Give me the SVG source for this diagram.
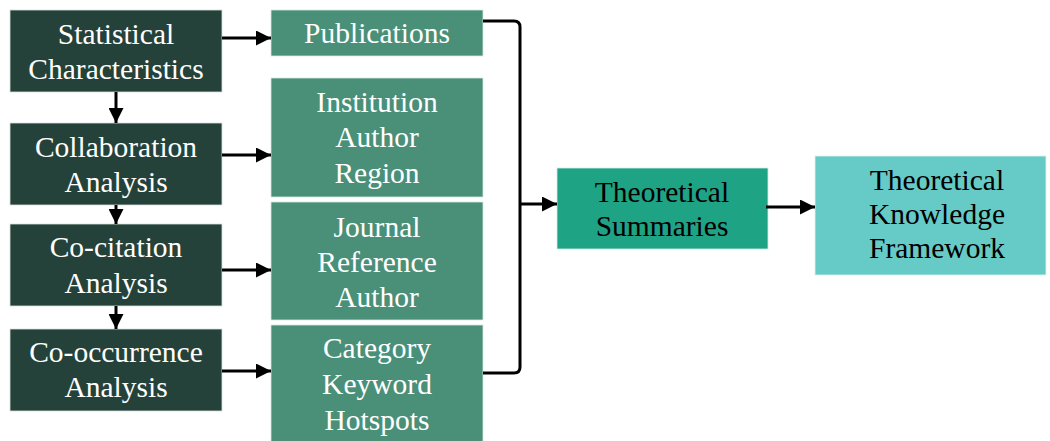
<svg xmlns="http://www.w3.org/2000/svg" width="1050" height="441" viewBox="0 0 1050 441">
<style>
.dark{fill:#25423A;stroke:#d8e0dc;stroke-width:0.8}
.mid{fill:#4A9079;stroke:#d8e8e0;stroke-width:0.8}
.sum{fill:#1FA385;stroke:#d8ece6;stroke-width:0.8}
.kn{fill:#66CBC6;stroke:#e0f0ee;stroke-width:0.8}
.t{font-family:"Liberation Serif","Times New Roman",serif;font-size:29.5px;text-anchor:middle}
.w{fill:#ffffff}
.b{fill:#000000}
.c{fill:none;stroke:#000;stroke-width:3}
</style>
<defs>
<marker id="ah" viewBox="0 0 10 10" refX="10" refY="5" markerWidth="5" markerHeight="5" orient="auto" markerUnits="strokeWidth">
<path d="M0,0 L10,5 L0,10 z" fill="#000"/>
</marker>
</defs>
<rect width="1050" height="441" fill="#fff"/>
<g id="statistical">
<rect class="dark" x="10" y="10" width="212" height="82"/>
<text class="t w" x="116" y="44">Statistical</text>
<text class="t w" x="116" y="79">Characteristics</text>
</g>
<g id="collaboration">
<rect class="dark" x="10" y="123" width="212" height="82"/>
<text class="t w" x="116" y="157">Collaboration</text>
<text class="t w" x="116" y="192">Analysis</text>
</g>
<g id="cocitation">
<rect class="dark" x="10" y="224" width="212" height="82"/>
<text class="t w" x="116" y="257">Co-citation</text>
<text class="t w" x="116" y="293">Analysis</text>
</g>
<g id="cooccurrence">
<rect class="dark" x="10" y="329" width="212" height="82"/>
<text class="t w" x="116" y="362">Co-occurrence</text>
<text class="t w" x="116" y="397">Analysis</text>
</g>
<g id="publications">
<rect class="mid" x="271" y="10" width="212" height="46"/>
<text class="t w" x="377" y="43">Publications</text>
</g>
<g id="institution">
<rect class="mid" x="271" y="78" width="212" height="119"/>
<text class="t w" x="377" y="112">Institution</text>
<text class="t w" x="377" y="147">Author</text>
<text class="t w" x="377" y="183">Region</text>
</g>
<g id="journal">
<rect class="mid" x="271" y="202" width="212" height="118"/>
<text class="t w" x="377" y="237">Journal</text>
<text class="t w" x="377" y="272">Reference</text>
<text class="t w" x="377" y="307">Author</text>
</g>
<g id="category">
<rect class="mid" x="271" y="325" width="212" height="120"/>
<text class="t w" x="377" y="358">Category</text>
<text class="t w" x="377" y="394">Keyword</text>
<text class="t w" x="377" y="430">Hotspots</text>
</g>
<g id="summaries">
<rect class="sum" x="557" y="168" width="211" height="81"/>
<text class="t b" x="662" y="202">Theoretical</text>
<text class="t b" x="662" y="236">Summaries</text>
</g>
<g id="knowledge">
<rect class="kn" x="815" y="156" width="231" height="119"/>
<text class="t b" x="937" y="190">Theoretical</text>
<text class="t b" x="937" y="224">Knowledge</text>
<text class="t b" x="937" y="258">Framework</text>
</g>
<g id="connectors">
<line class="c" x1="222" y1="38" x2="271" y2="38" marker-end="url(#ah)"/>
<line class="c" x1="222" y1="155" x2="271" y2="155" marker-end="url(#ah)"/>
<line class="c" x1="222" y1="270" x2="271" y2="270" marker-end="url(#ah)"/>
<line class="c" x1="222" y1="371" x2="271" y2="371" marker-end="url(#ah)"/>
<line class="c" x1="116" y1="92" x2="116" y2="123" marker-end="url(#ah)"/>
<line class="c" x1="116" y1="205" x2="116" y2="224" marker-end="url(#ah)"/>
<line class="c" x1="116" y1="306" x2="116" y2="329" marker-end="url(#ah)"/>
<path class="c" d="M483,21 L514,21 Q520,21 520,27 L520,367 Q520,373 514,373 L483,373"/>
<line class="c" x1="520" y1="204" x2="557" y2="204" marker-end="url(#ah)"/>
<line class="c" x1="766" y1="207" x2="815" y2="207" marker-end="url(#ah)"/>
</g>
</svg>
